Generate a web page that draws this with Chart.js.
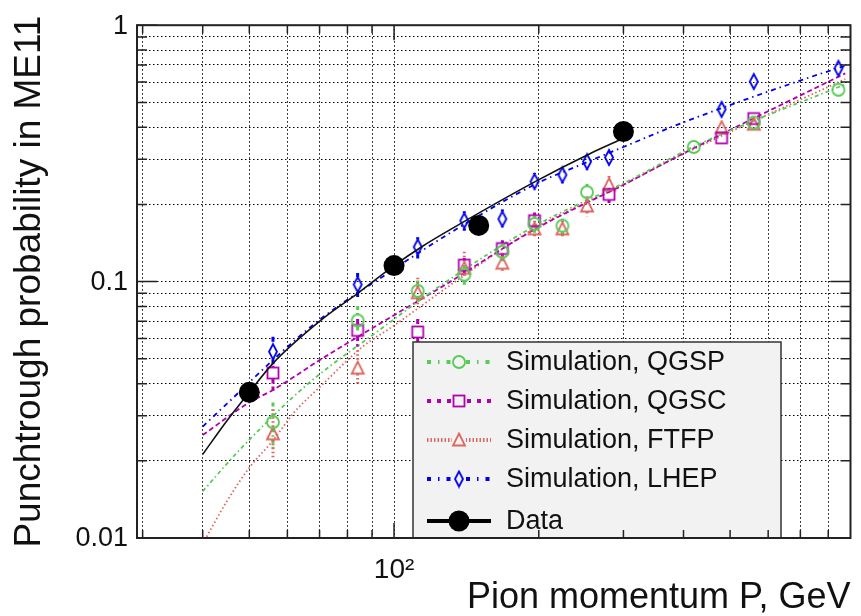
<!DOCTYPE html>
<html>
<head>
<meta charset="utf-8">
<title>Punchtrough probability in ME11</title>
<script src="https://cdn.jsdelivr.net/npm/chart.js@4.4.1/dist/chart.umd.min.js"></script>
<style>
  html, body { margin: 0; padding: 0; background: #ffffff; }
  #wrap { width: 861px; height: 616px; }
</style>
</head>
<body>
<div id="wrap"><canvas id="punchChart" width="861" height="616"></canvas></div>
<script>
// --- Axis ticks ---
const xTickValues = [30, 40, 50, 60, 70, 80, 90, 100, 200, 300, 400, 500, 600, 700, 800];
const yTickValues = [0.01, 0.02, 0.03, 0.04, 0.05, 0.06, 0.07, 0.08, 0.09,
                     0.1, 0.2, 0.3, 0.4, 0.5, 0.6, 0.7, 0.8, 0.9, 1];

// --- Data (measured) ---
const dataP = [50, 100, 150, 300];
const dataProb = [0.0370, 0.1155, 0.1656, 0.3850];
const dataFitP = [40, 45, 50, 56, 71, 84, 100, 114, 129, 197, 256, 300];
const dataFitProb = [0.0212, 0.0288, 0.0370, 0.0480, 0.0715, 0.0900, 0.1155, 0.1365, 0.1570, 0.2460, 0.3160, 0.3620];

// --- Simulation, QGSP ---
const qgspP = [56, 84, 112, 140, 168, 196, 224, 252, 420, 560, 840];
const qgspProb = [0.0283, 0.0705, 0.0920, 0.1064, 0.1306, 0.1679, 0.1652, 0.2232, 0.3350, 0.4170, 0.5600];
const qgspLow = [0.0223, 0.0640, 0.0820, 0.0946, 0.1200, 0.1550, 0.1470, 0.2060, null, null, null];
const qgspHigh = [0.0338, 0.0804, 0.1010, 0.1160, 0.1400, 0.1800, 0.1760, 0.2400, null, null, null];
const qgspFitP = [40, 47, 62, 70, 93, 123, 197, 305, 426, 868];
const qgspFitProb = [0.0152, 0.0214, 0.0358, 0.0435, 0.0645, 0.0946, 0.1654, 0.2455, 0.3400, 0.5880];

// --- Simulation, QGSC ---
const qgscP = [56, 84, 112, 140, 168, 196, 280, 480, 560];
const qgscProb = [0.0440, 0.0645, 0.0636, 0.1160, 0.1346, 0.1729, 0.2188, 0.3637, 0.4325];
const qgscLow = [0.0375, 0.0557, 0.0574, 0.1048, 0.1250, 0.1630, 0.2027, null, null];
const qgscHigh = [0.0470, 0.0715, 0.0715, 0.1235, 0.1450, 0.1860, 0.2320, null, null];
const qgscFitP = [40, 50, 56, 71, 97, 128, 197, 305, 387, 868];
const qgscFitProb = [0.0252, 0.0338, 0.0378, 0.0502, 0.0715, 0.0974, 0.1606, 0.2423, 0.3066, 0.6490];

// --- Simulation, FTFP ---
const ftfpP = [56, 84, 112, 140, 168, 196, 224, 252, 280, 480, 560];
const ftfpProb = [0.0255, 0.0460, 0.0905, 0.1128, 0.1180, 0.1606, 0.1606, 0.1972, 0.2388, 0.3986, 0.4111];
const ftfpLow = [0.0204, 0.0392, 0.0816, 0.1060, 0.1080, 0.1470, 0.1500, 0.1800, 0.2200, null, null];
const ftfpHigh = [0.0318, 0.0540, 0.1036, 0.1306, 0.1290, 0.1729, 0.1730, 0.2150, 0.2580, null, null];
const ftfpFitP = [40, 45, 50, 56, 62, 71, 86, 100, 130, 197, 305, 387, 868];
const ftfpFitProb = [0.0095, 0.0140, 0.0188, 0.0240, 0.0309, 0.0397, 0.0557, 0.0674, 0.0960, 0.1620, 0.2423, 0.3050, 0.6170];

// --- Simulation, LHEP ---
const lhepP = [56, 84, 112, 140, 168, 196, 224, 252, 280, 480, 560, 840];
const lhepProb = [0.0533, 0.0974, 0.1365, 0.1729, 0.1755, 0.2457, 0.2608, 0.2934, 0.3048, 0.4694, 0.6029, 0.6783];
const lhepLow = [0.0460, 0.0853, 0.1230, 0.1580, 0.1630, 0.2290, 0.2420, 0.2730, 0.2850, null, null, null];
const lhepHigh = [0.0610, 0.1080, 0.1490, 0.1880, 0.1910, 0.2650, 0.2770, 0.3110, 0.3250, null, null, null];
const lhepFitP = [40, 45, 58, 70, 96, 130, 199, 244, 300, 400, 706, 875];
const lhepFitProb = [0.0272, 0.0335, 0.0525, 0.0710, 0.1064, 0.1537, 0.2423, 0.2850, 0.3350, 0.4180, 0.6120, 0.6980];

// --- Colours ---
const green = '#55cc55';
const magenta = '#b000b0';
const salmon = '#dd6660';
const blue = '#0000ee';
const black = '#111111';

const FONT = '"Liberation Sans", Arial, Helvetica, sans-serif';

function pts(xs, ys) {
    return xs.map((x, i) => ({ x: x, y: ys[i] }));
}

// small canvases used as point styles (open ROOT-like markers)
function makeMarker(kind, color) {
    const c = document.createElement('canvas');
    const w = kind === 'diamond' ? 12 : 16;
    const h = kind === 'diamond' ? 19 : 16;
    c.width = w; c.height = h;
    const g = c.getContext('2d');
    g.strokeStyle = color;
    g.fillStyle = color;
    g.lineWidth = 1.8;
    const cx = w / 2, cy = h / 2;
    g.beginPath();
    if (kind === 'circle') {
        g.arc(cx, cy, 6, 0, Math.PI * 2);
        g.stroke();
    } else if (kind === 'square') {
        g.strokeRect(cx - 5.5, cy - 5.5, 11, 11);
    } else if (kind === 'triangle') {
        g.moveTo(cx, cy - 6.5);
        g.lineTo(cx + 6, cy + 5.5);
        g.lineTo(cx - 6, cy + 5.5);
        g.closePath();
        g.stroke();
    } else if (kind === 'diamond') {
        g.moveTo(cx, cy - 7.5);
        g.lineTo(cx + 4, cy);
        g.lineTo(cx, cy + 7.5);
        g.lineTo(cx - 4, cy);
        g.closePath();
        g.stroke();
    }
    return c;
}

const series = [
    { label: 'Simulation, QGSP', color: green, marker: 'circle', dash: [4, 3, 1.5, 3], legendDash: [4, 7, 1.5, 7], half: 6,
      p: qgspP, prob: qgspProb, lo: qgspLow, hi: qgspHigh, fitP: qgspFitP, fitProb: qgspFitProb },
    { label: 'Simulation, QGSC', color: magenta, marker: 'square', dash: [5, 3], legendDash: [4, 6], half: 5.5,
      p: qgscP, prob: qgscProb, lo: qgscLow, hi: qgscHigh, fitP: qgscFitP, fitProb: qgscFitProb },
    { label: 'Simulation, FTFP', color: salmon, marker: 'triangle', dash: [1.5, 2.5], legendDash: [1.5, 2], half: 6,
      p: ftfpP, prob: ftfpProb, lo: ftfpLow, hi: ftfpHigh, fitP: ftfpFitP, fitProb: ftfpFitProb },
    { label: 'Simulation, LHEP', color: blue, marker: 'diamond', dash: [5, 4, 1.5, 4], legendDash: [4, 7, 1.5, 7], half: 7.5,
      p: lhepP, prob: lhepProb, lo: lhepLow, hi: lhepHigh, fitP: lhepFitP, fitProb: lhepFitProb }
];

series.forEach(s => { s.canvas = makeMarker(s.marker, s.color); });

// --- Datasets (first dataset is drawn on top) ---
const datasets = [
    {
        label: 'Data',
        data: pts(dataP, dataProb),
        showLine: false,
        pointStyle: 'circle',
        pointRadius: 10.5,
        pointBackgroundColor: '#000',
        pointBorderColor: '#000',
        pointBorderWidth: 0
    },
    {
        label: 'Data fit',
        data: pts(dataFitP, dataFitProb),
        borderColor: black,
        borderWidth: 1.6,
        pointRadius: 0,
        cubicInterpolationMode: 'monotone'
    }
];

series.forEach(s => {
    datasets.push({
        label: s.label,
        data: pts(s.p, s.prob),
        showLine: false,
        pointStyle: s.canvas,
        pointRadius: 7,
        borderColor: s.color,
        errLow: s.lo,
        errHigh: s.hi,
        errDash: s.dash,
        markerHalf: s.half
    });
});
series.forEach(s => {
    datasets.push({
        label: s.label + ' fit',
        data: pts(s.fitP, s.fitProb),
        borderColor: s.color,
        borderWidth: 1.8,
        borderDash: s.dash,
        pointRadius: 0,
        cubicInterpolationMode: 'monotone'
    });
});

function isDecade(v) {
    const l = Math.log10(v);
    return Math.abs(l - Math.round(l)) < 1e-6;
}

// error bars, split around the open markers
const errorBars = {
    id: 'errorBars',
    beforeDatasetsDraw(chart) {
        const { ctx, chartArea: a } = chart;
        const yScale = chart.scales.y;
        ctx.save();
        ctx.beginPath();
        ctx.rect(a.left, a.top, a.right - a.left, a.bottom - a.top);
        ctx.clip();
        chart.data.datasets.forEach((ds, di) => {
            if (!ds.errLow) return;
            const meta = chart.getDatasetMeta(di);
            ctx.strokeStyle = ds.borderColor;
            ctx.lineWidth = 3;
            ctx.setLineDash(ds.errDash);
            meta.data.forEach((el, i) => {
                const lo = ds.errLow[i], hi = ds.errHigh[i];
                if (lo == null || hi == null) return;
                const yLo = yScale.getPixelForValue(lo);
                const yHi = yScale.getPixelForValue(hi);
                const gap = ds.markerHalf;
                ctx.beginPath();
                if (yHi < el.y - gap) { ctx.moveTo(el.x, yHi); ctx.lineTo(el.x, el.y - gap); }
                if (yLo > el.y + gap) { ctx.moveTo(el.x, el.y + gap); ctx.lineTo(el.x, yLo); }
                ctx.stroke();
            });
        });
        ctx.restore();
    }
};

// legend box, drawn over the plot like the ROOT TLegend
const legendBox = {
    id: 'legendBox',
    afterDatasetsDraw(chart) {
        const ctx = chart.ctx;
        const box = { left: 413, top: 342, right: 781, bottom: 538 };
        const rows = [362, 401, 440, 479, 521];
        ctx.save();
        ctx.fillStyle = '#f2f2f2';
        ctx.fillRect(box.left, box.top, box.right - box.left, box.bottom - box.top);
        ctx.strokeStyle = '#333';
        ctx.lineWidth = 1.5;
        ctx.strokeRect(box.left, box.top, box.right - box.left, box.bottom - box.top);

        const entries = series.map(s => ({ label: s.label, color: s.color, dash: s.legendDash, canvas: s.canvas, width: 4 }));
        entries.push({ label: 'Data', color: '#000', dash: [], canvas: null, width: 4 });

        entries.forEach((e, i) => {
            const y = rows[i];
            ctx.strokeStyle = e.color;
            ctx.lineWidth = e.width;
            ctx.setLineDash(e.dash);
            ctx.beginPath();
            ctx.moveTo(427, y);
            ctx.lineTo(491, y);
            ctx.stroke();
            ctx.setLineDash([]);
            if (e.canvas) {
                ctx.fillStyle = '#f2f2f2';
                ctx.fillRect(459 - 7, y - 8, 14, 16);
                ctx.drawImage(e.canvas, 459 - e.canvas.width / 2, y - e.canvas.height / 2);
            } else {
                ctx.fillStyle = '#000';
                ctx.beginPath();
                ctx.arc(459, y, 10.5, 0, Math.PI * 2);
                ctx.fill();
            }
            ctx.fillStyle = '#111';
            ctx.font = '27px ' + FONT;
            ctx.textBaseline = 'middle';
            ctx.textAlign = 'left';
            ctx.fillText(e.label, 506, y + 1);
        });
        ctx.restore();
    }
};

// frame and inward ticks on all four sides
const frameTicks = {
    id: 'frameTicks',
    afterDraw(chart) {
        const { ctx, chartArea: a } = chart;
        const xs = chart.scales.x, ys = chart.scales.y;
        ctx.save();
        ctx.strokeStyle = '#222';
        ctx.lineWidth = 1.5;
        ctx.beginPath();
        xTickValues.forEach(v => {
            const px = xs.getPixelForValue(v);
            const len = isDecade(v) ? 15 : 8;
            ctx.moveTo(px, a.bottom); ctx.lineTo(px, a.bottom - len);
            ctx.moveTo(px, a.top); ctx.lineTo(px, a.top + len);
        });
        yTickValues.forEach(v => {
            const py = ys.getPixelForValue(v);
            const len = isDecade(v) ? 20 : 10;
            ctx.moveTo(a.left, py); ctx.lineTo(a.left + len, py);
            ctx.moveTo(a.right, py); ctx.lineTo(a.right - len, py);
        });
        ctx.stroke();
        ctx.lineWidth = 2;
        ctx.strokeRect(a.left, a.top, a.right - a.left, a.bottom - a.top);
        ctx.restore();
    }
};

Chart.defaults.font.family = FONT;
Chart.defaults.color = '#111';

new Chart(document.getElementById('punchChart').getContext('2d'), {
    type: 'line',
    data: { datasets: datasets },
    options: {
        responsive: false,
        animation: false,
        events: [],
        layout: { padding: { top: 15, right: 7, left: 0, bottom: 0 } },
        plugins: {
            legend: { display: false },
            tooltip: { enabled: false }
        },
        scales: {
            x: {
                type: 'logarithmic',
                min: 29.2,
                max: 890,
                afterBuildTicks: axis => { axis.ticks = xTickValues.map(v => ({ value: v })); },
                afterFit: axis => { axis.height = 78; },
                ticks: {
                    autoSkip: false,
                    maxRotation: 0,
                    padding: 15,
                    color: '#111',
                    font: { size: 28 },
                    callback: v => (v === 100 ? '10\u00B2' : '')
                },
                grid: { color: '#000', lineWidth: 1, drawTicks: false },
                border: { display: false, dash: [1.5, 2.5] },
                title: {
                    display: true,
                    text: 'Pion momentum P, GeV',
                    align: 'end',
                    color: '#111',
                    font: { size: 36, lineHeight: 1 },
                    padding: { top: 0, bottom: 0 }
                }
            },
            y: {
                type: 'logarithmic',
                min: 0.01,
                max: 1,
                afterBuildTicks: axis => { axis.ticks = yTickValues.map(v => ({ value: v })); },
                afterFit: axis => { axis.width = 137; },
                ticks: {
                    autoSkip: false,
                    padding: 9,
                    labelOffset: 1,
                    color: '#111',
                    font: { size: 27 },
                    callback: v => (v === 0.01 ? '0.01' : v === 0.1 ? '0.1' : v === 1 ? '1' : '')
                },
                grid: { color: '#000', lineWidth: 1, drawTicks: false },
                border: { display: false, dash: [1.5, 2.5] },
                title: {
                    display: true,
                    text: 'Punchtrough probability in ME11',
                    color: '#111',
                    font: { size: 37, lineHeight: 1.2 },
                    padding: { top: 8, bottom: 0 }
                }
            }
        }
    },
    plugins: [errorBars, legendBox, frameTicks]
});
</script>
</body>
</html>
